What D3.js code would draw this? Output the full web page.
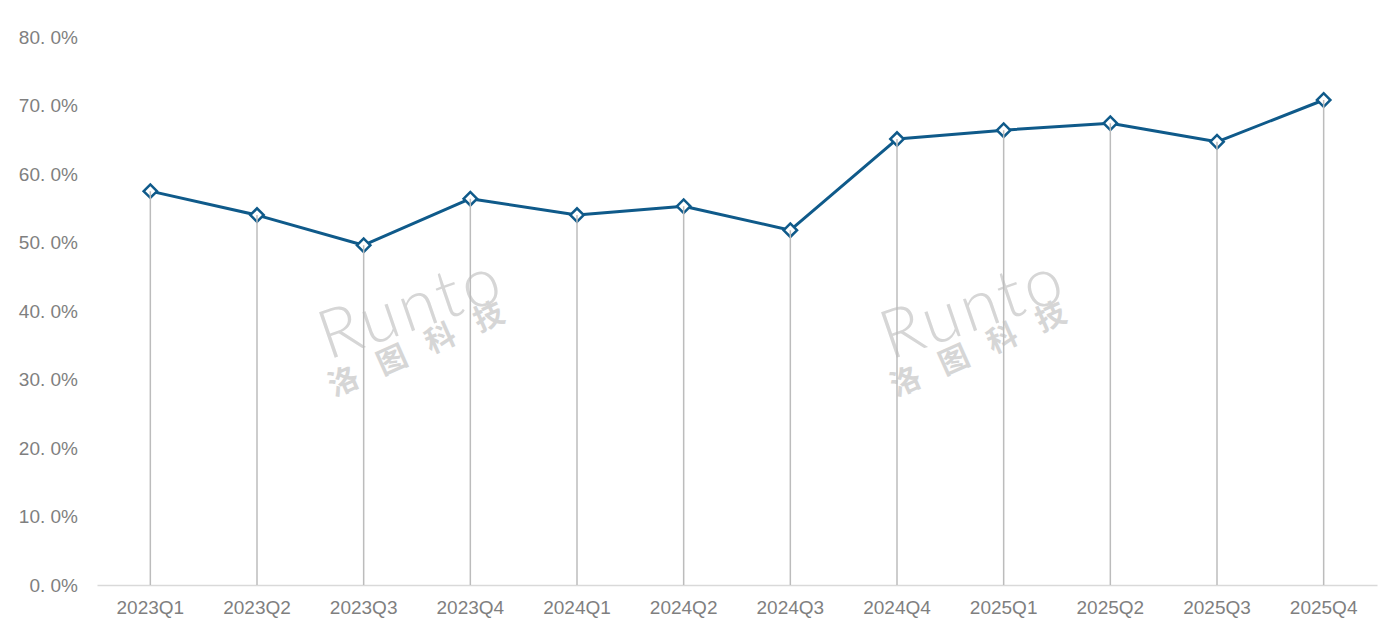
<!DOCTYPE html>
<html>
<head>
<meta charset="utf-8">
<script src="https://cdn.jsdelivr.net/npm/d3@7"></script>
<style>
  html, body { margin: 0; padding: 0; background: #fff; }
  svg { display: block; }
</style>
</head>
<body>
<svg id="chart" width="1386" height="642"></svg>
<script>
const categories = ["2023Q1","2023Q2","2023Q3","2023Q4","2024Q1","2024Q2","2024Q3","2024Q4","2025Q1","2025Q2","2025Q3","2025Q4"];
const values = [57.5, 54.0, 49.6, 56.4, 54.0, 55.3, 51.8, 65.1, 66.4, 67.4, 64.7, 70.8];
const yTicks = [0, 10, 20, 30, 40, 50, 60, 70, 80];
const watermarkPositions = [[322, 360], [884, 360]];

const svg = d3.select("#chart");
const margin = { left: 97, right: 9, top: 37, bottom: 57 };
const W = 1386, H = 642;

const x = d3.scaleBand().domain(categories).range([margin.left, W - margin.right]);
const y = d3.scaleLinear().domain([0, 80]).range([H - margin.bottom, margin.top]);

// watermark
watermarkPositions.forEach(([wx, wy]) => {
  svg.append("text").text("Runto")
    .attr("transform", `translate(${wx + 6},${wy}) rotate(-19)`)
    .attr("font-family", "Lato, 'Noto Sans', sans-serif")
    .attr("font-weight", 300)
    .attr("font-size", 68)
    .attr("letter-spacing", 3)
    .attr("fill", "#d6d6d6");
  svg.append("text").text("洛图科技")
    .attr("transform", `translate(${wx + 12},${wy + 37}) rotate(-24)`)
    .attr("font-family", "'Noto Sans CJK SC', sans-serif")
    .attr("font-weight", 700)
    .attr("font-size", 30)
    .attr("letter-spacing", 23)
    .attr("fill", "#d6d6d6");
});

// y axis labels
const yAxis = d3.axisLeft(y).tickValues(yTicks).tickSize(0).tickPadding(0)
  .tickFormat(d => d.toFixed(1).replace(".", ". ") + "%");
const yg = svg.append("g").attr("transform", `translate(78,0)`).call(yAxis);
yg.select(".domain").remove();
yg.selectAll("text")
  .attr("font-family", "'Liberation Sans', Arial, sans-serif")
  .attr("font-size", 19)
  .attr("fill", "#7f7f7f");

// x axis
const xAxis = d3.axisBottom(x).tickSize(0).tickPadding(16);
const xg = svg.append("g").attr("transform", `translate(0,${y(0)})`).call(xAxis);
xg.select(".domain").attr("stroke", "#d9d9d9").attr("stroke-width", 1.5);
xg.selectAll("text")
  .attr("font-family", "'Liberation Sans', Arial, sans-serif")
  .attr("font-size", 19)
  .attr("fill", "#7f7f7f");

const cx = d => x(d) + x.bandwidth() / 2;

// line
const line = d3.line().x((d, i) => cx(categories[i])).y(d => y(d));
svg.append("path").datum(values)
  .attr("d", line)
  .attr("fill", "none")
  .attr("stroke", "#0f5a8a")
  .attr("stroke-width", 3)
  .attr("stroke-linejoin", "round");

// markers
svg.append("g").selectAll("path.m").data(values).join("path")
  .attr("class", "m")
  .attr("d", d3.symbol().type(d3.symbolSquare).size(90))
  .attr("transform", (d, i) => `translate(${cx(categories[i])},${y(d)}) rotate(45)`)
  .attr("fill", "#ffffff")
  .attr("stroke", "#0f5a8a")
  .attr("stroke-width", 2.5);

// drop lines
svg.append("g").selectAll("line").data(values).join("line")
  .attr("x1", (d, i) => cx(categories[i]))
  .attr("x2", (d, i) => cx(categories[i]))
  .attr("y1", d => y(d))
  .attr("y2", y(0))
  .attr("stroke", "#bcbcbc")
  .attr("stroke-width", 1.5);
</script>
</body>
</html>
